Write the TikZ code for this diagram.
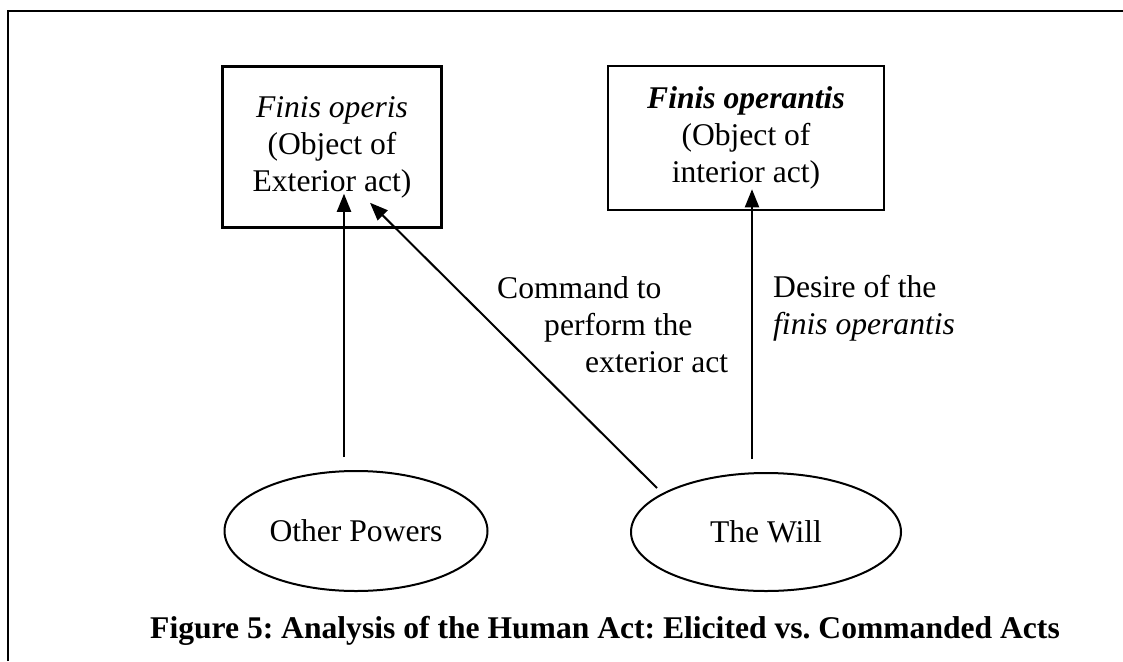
\documentclass[tikz,border=0pt]{standalone}
\usepackage{fontspec}
\setmainfont{Liberation Serif}
\frenchspacing
\usetikzlibrary{shapes.geometric,arrows.meta}
\begin{document}
\begin{tikzpicture}
    [
    x=1pt,y=-1pt,
    every node/.style={font=\fontsize{31.6}{37}\selectfont},
    object/.style={rectangle,draw,line width=2.5pt,align=center,inner sep=0pt},
    power/.style={ellipse,draw,line width=2pt,inner sep=0pt},
    act/.style={line width=2pt,-{Triangle[length=18pt,width=14pt]}},
    note/.style={align=left,inner sep=0pt,anchor=base west}
    ]
    \useasboundingbox (0,0) rectangle (1123,661);
    \draw [line width=2.5pt] (8,661) -- (8,11) -- (1123,11);
    \node (operis) at (332,147) [object,minimum width=219pt,minimum height=161pt] {\textit{Finis operis}\\(Object of\\Exterior act)};
    \node (operantis) at (746,138) [object,minimum width=276pt,minimum height=144pt] {\textbf{\textit{Finis operantis}}\\(Object of\\interior act)};
    \node (powers) at (356,531) [power,minimum width=263pt,minimum height=120pt] {Other Powers};
    \node (will) at (766,532) [power,minimum width=270pt,minimum height=118pt] {The Will};
    \draw [act] ([xshift=-12pt,yshift=13pt]powers.north) -- ([xshift=12pt,yshift=35pt]operis.south);
    \draw [act] ([xshift=-109pt,yshift=44pt]will.center) -- ([xshift=38pt,yshift=26pt]operis.south);
    \draw [act] ([xshift=-14pt,yshift=13pt]will.north) -- ([xshift=6pt,yshift=22pt]operantis.south);
    \node (command) at (497,372) [note] {Command to\\\hspace*{47pt}perform the\\\hspace*{88pt}exterior act};
    \node (desire) at (773,334) [note] {Desire of the\\\textit{finis operantis}};
    \node (caption) at (150,638) [anchor=base west,inner sep=0pt,font=\fontsize{31.6}{37}\selectfont\bfseries] {Figure 5: Analysis of the Human Act: Elicited vs. Commanded Acts};
  \end{tikzpicture}
\end{document}
